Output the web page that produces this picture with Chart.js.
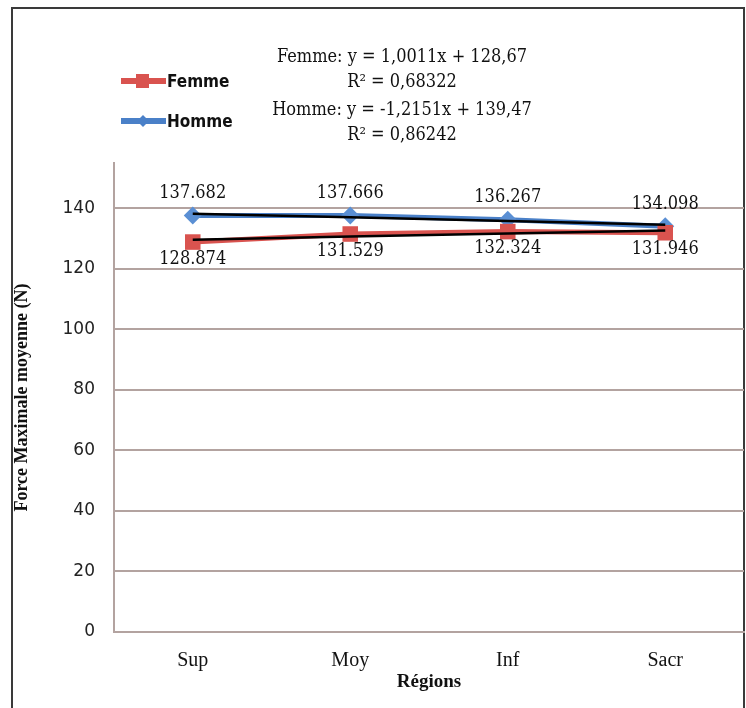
<!DOCTYPE html>
<html>
<head>
<meta charset="utf-8">
<script src="https://cdn.jsdelivr.net/npm/chart.js@4/dist/chart.umd.min.js"></script>
<style>
  html, body { margin: 0; padding: 0; background: #fff; }
  #wrap { position: relative; width: 746px; height: 708px; overflow: hidden; }
  #frame { position: absolute; left: 11px; top: 7px; width: 730px; height: 720px;
           border: 2px solid #3a3a3a; border-bottom: none; }
  canvas { position: absolute; left: 0; top: 0; }
</style>
</head>
<body>
<div id="wrap">
  <div id="frame"></div>
  <canvas id="chart" width="746" height="708"></canvas>
</div>
<script>
//Data
var regions = ["Sup", "Moy", "Inf", "Sacr"];
var femme = [128.874, 131.529, 132.324, 131.946];
var homme = [137.682, 137.666, 136.267, 134.098];
//linear trendlines (values at each category)
var femmeTrend = [129.67, 130.67, 131.67, 132.68];
var hommeTrend = [138.25, 137.04, 135.82, 134.61];
var yTicks = [0, 20, 40, 60, 80, 100, 120, 140];
var equations = [
  "Femme: y = 1,0011x + 128,67",
  "R² = 0,68322",
  "Homme: y = -1,2151x + 139,47",
  "R² = 0,86242"
];

var RED = "#d9534f";
var BLUE = "#4a80c8";
var GRID = "#b3a3a0";

//Labels, legend and equations
var extrasPlugin = {
  id: "extras",
  afterDatasetsDraw: function(chart) {
    var ctx = chart.ctx;
    ctx.save();
    ctx.fillStyle = "#111";
    ctx.textAlign = "center";
    ctx.textBaseline = "middle";
    ctx.font = "18px 'DejaVu Serif Condensed', 'DejaVu Serif', serif";
    chart.getDatasetMeta(3).data.forEach(function(pt, i) {
      ctx.fillText(homme[i].toFixed(3), pt.x, pt.y - 22);
    });
    chart.getDatasetMeta(2).data.forEach(function(pt, i) {
      ctx.fillText(femme[i].toFixed(3), pt.x, pt.y + 17);
    });

    //equations
    ctx.font = "18px 'DejaVu Serif Condensed', 'Liberation Serif', serif";
    var eqY = [57, 82, 110, 135];
    equations.forEach(function(t, i) {
      ctx.fillText(t, 402, eqY[i]);
    });

    //legend
    var items = [{label: "Femme", color: RED, y: 81, shape: "sq"},
                 {label: "Homme", color: BLUE, y: 121, shape: "dia"}];
    items.forEach(function(it) {
      ctx.strokeStyle = it.color;
      ctx.lineWidth = 6;
      ctx.beginPath();
      ctx.moveTo(121, it.y);
      ctx.lineTo(166, it.y);
      ctx.stroke();
      ctx.fillStyle = it.color;
      if (it.shape === "sq") {
        ctx.fillRect(136, it.y - 7, 13, 14);
      } else {
        ctx.beginPath();
        ctx.moveTo(143, it.y - 6);
        ctx.lineTo(149, it.y);
        ctx.lineTo(143, it.y + 6);
        ctx.lineTo(137, it.y);
        ctx.closePath();
        ctx.fill();
      }
      ctx.fillStyle = "#111";
      ctx.textAlign = "left";
      ctx.font = "bold 17px 'DejaVu Sans Condensed', 'Liberation Sans', sans-serif";
      ctx.fillText(it.label, 167, it.y + 2);
    });
    ctx.restore();
  }
};

var chart = new Chart(document.getElementById("chart"), {
  type: "line",
  data: {
    labels: regions,
    datasets: [
      { label: "Femme tendance", data: femmeTrend, borderColor: "#000", borderWidth: 2.5,
        pointRadius: 0, order: 0 },
      { label: "Homme tendance", data: hommeTrend, borderColor: "#000", borderWidth: 2.5,
        pointRadius: 0, order: 0 },
      { label: "Femme", data: femme, borderColor: RED, backgroundColor: RED, borderWidth: 5,
        pointStyle: "rect", pointRadius: 11, pointBorderWidth: 0, order: 1 },
      { label: "Homme", data: homme, borderColor: BLUE, backgroundColor: "#5a8fd4", borderWidth: 5,
        pointStyle: "rectRot", pointRadius: 9, pointBorderWidth: 0, order: 1 }
    ]
  },
  options: {
    responsive: false,
    animation: false,
    layout: { autoPadding: false, padding: { top: 163, right: 2, bottom: 0, left: 0 } },
    plugins: {
      legend: { display: false },
      tooltip: { enabled: false }
    },
    scales: {
      x: {
        offset: true,
        grid: { display: false, drawTicks: false },
        border: { display: true, color: GRID, width: 2 },
        ticks: { color: "#111", padding: 17,
                 font: { family: "'Liberation Serif', serif", size: 20 } },
        title: { display: true, text: "Régions", color: "#111", padding: { bottom: 15 },
                 font: { family: "'Liberation Serif', serif", size: 19, weight: "bold" } },
        afterFit: function(s) {
          s.height = 76;
          s.paddingLeft = 0;
          s.paddingRight = 0;
        }
      },
      y: {
        min: 0,
        max: 155,
        afterBuildTicks: function(s) {
          s.ticks = yTicks.map(function(v) { return { value: v }; });
        },
        grid: { color: GRID, lineWidth: 2, drawTicks: false },
        border: { display: true, color: GRID, width: 2 },
        ticks: { color: "#222", padding: 19,
                 font: { family: "'DejaVu Sans', sans-serif", size: 17 } },
        title: { display: true, text: "Force Maximale moyenne (N)", color: "#111",
                 padding: { top: 12 },
                 font: { family: "'Liberation Serif', serif", size: 18, weight: "bold" } },
        afterFit: function(s) {
          s.width = 114;
          s.paddingTop = 0;
          s.paddingBottom = 0;
        }
      }
    }
  },
  plugins: [extrasPlugin]
});
</script>
</body>
</html>
